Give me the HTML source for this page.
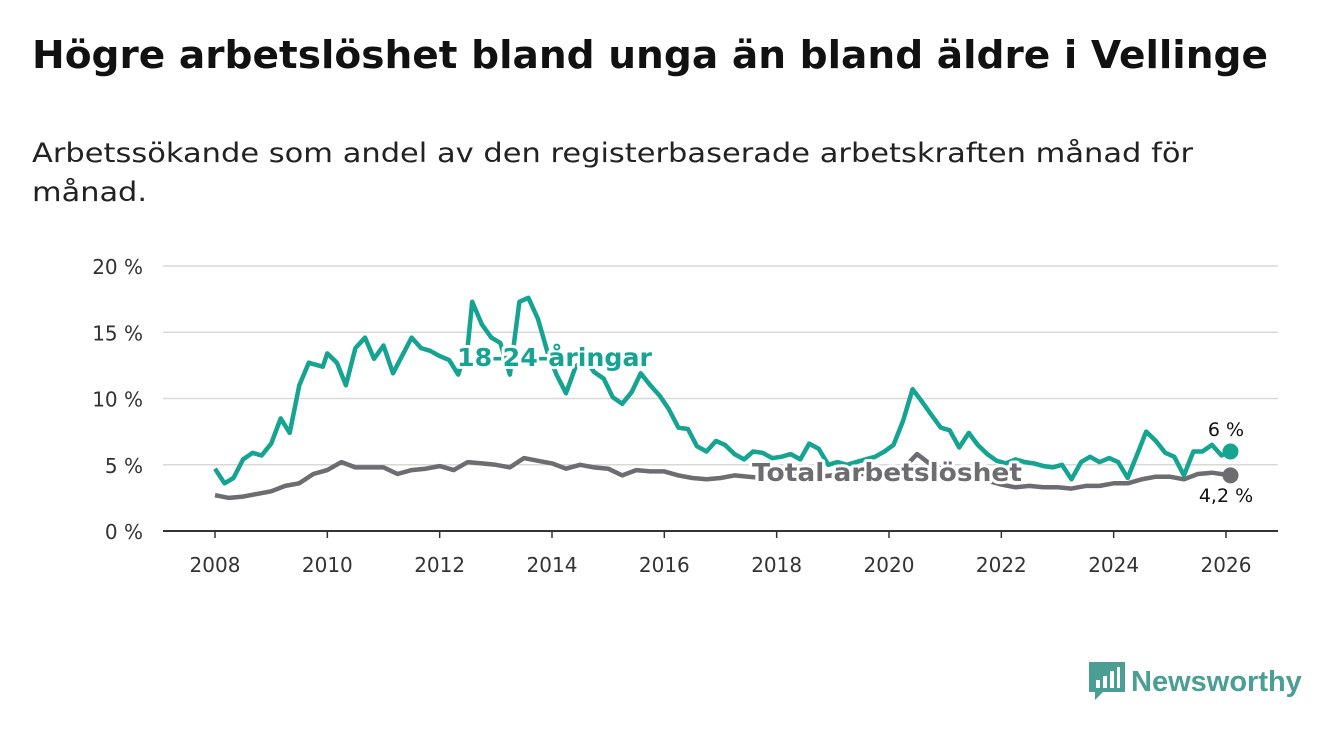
<!DOCTYPE html>
<html><head><meta charset="utf-8"><style>
body{margin:0;width:1340px;height:734px;background:#fff;font-family:"DejaVu Sans","Liberation Sans",sans-serif;overflow:hidden;position:relative}
.fit{position:absolute;margin:0;white-space:nowrap;transform-origin:0 0}
#title{left:32px;top:33px;font-size:38px;font-weight:bold;color:#111}
.sub{font-size:27px;color:#222;left:32px}
svg{position:absolute;left:0;top:0}
</style></head><body>
<div id="title" class="fit" data-target="1236">Högre arbetslöshet bland unga än bland äldre i Vellinge</div>
<div class="fit sub" style="top:138px" data-target="1161">Arbetssökande som andel av den registerbaserade arbetskraften månad för</div>
<div class="fit sub" style="top:177px" data-target="115">månad.</div>
<svg id="chart" width="1340" height="734"></svg>
<div style="position:absolute;left:1089px;top:662px;display:flex;align-items:center">
<svg width="36" height="40" style="position:static"><path d="M0 0H36V30H14L6 38V30H0Z" fill="#4a9e94"/><rect x="7" y="18" width="4" height="8" fill="#fff"/><rect x="14" y="14" width="4" height="12" fill="#fff"/><rect x="21" y="9" width="4" height="17" fill="#fff"/><rect x="28" y="5" width="3" height="21" fill="#fff"/></svg>
<span style="font-family:'Liberation Sans',sans-serif;font-size:29px;color:#4a9e94;font-weight:bold;margin-left:6px">Newsworthy</span></div>
<script>
const youthDates=[2008,2008.17,2008.33,2008.5,2008.67,2008.83,2009,2009.17,2009.33,2009.5,2009.67,2009.75,2009.92,2010,2010.17,2010.33,2010.5,2010.67,2010.83,2011,2011.17,2011.33,2011.5,2011.67,2011.83,2012,2012.17,2012.33,2012.5,2012.58,2012.75,2012.92,2013.08,2013.25,2013.42,2013.58,2013.75,2013.92,2014.08,2014.25,2014.42,2014.58,2014.75,2014.92,2015.08,2015.25,2015.42,2015.58,2015.75,2015.92,2016.08,2016.25,2016.42,2016.58,2016.75,2016.92,2017.08,2017.25,2017.42,2017.58,2017.75,2017.92,2018.08,2018.25,2018.42,2018.58,2018.75,2018.92,2019.08,2019.25,2019.42,2019.58,2019.75,2019.92,2020.08,2020.25,2020.42,2020.58,2020.75,2020.92,2021.08,2021.25,2021.42,2021.58,2021.75,2021.92,2022.08,2022.25,2022.42,2022.58,2022.75,2022.92,2023.08,2023.25,2023.42,2023.58,2023.75,2023.92,2024.08,2024.25,2024.42,2024.58,2024.75,2024.92,2025.08,2025.25,2025.42,2025.58,2025.75,2025.92,2026.08];
const youthVals=[4.7,3.6,4.0,5.4,5.9,5.7,6.6,8.5,7.4,11.0,12.7,12.6,12.4,13.4,12.7,11.0,13.8,14.6,13.0,14.0,11.9,13.2,14.6,13.8,13.6,13.2,12.9,11.8,14.0,17.3,15.6,14.6,14.2,11.8,17.3,17.6,16.0,13.5,11.8,10.4,12.4,13.0,12.0,11.5,10.1,9.6,10.5,11.9,11.0,10.2,9.2,7.8,7.7,6.4,6.0,6.8,6.5,5.8,5.4,6.0,5.9,5.5,5.6,5.8,5.4,6.6,6.2,5.0,5.2,5.0,5.2,5.4,5.6,6.0,6.5,8.3,10.7,9.8,8.8,7.8,7.6,6.3,7.4,6.5,5.8,5.3,5.1,5.4,5.2,5.1,4.9,4.8,5.0,3.9,5.2,5.6,5.2,5.5,5.2,4.0,5.8,7.5,6.8,5.9,5.6,4.2,6.0,6.0,6.5,5.7,6.0];
const totalDates=[2008,2008.25,2008.5,2008.75,2009,2009.25,2009.5,2009.75,2010,2010.25,2010.5,2010.75,2011,2011.25,2011.5,2011.75,2012,2012.25,2012.5,2012.75,2013,2013.25,2013.5,2013.75,2014,2014.25,2014.5,2014.75,2015,2015.25,2015.5,2015.75,2016,2016.25,2016.5,2016.75,2017,2017.25,2017.5,2017.75,2018,2018.25,2018.5,2018.75,2019,2019.25,2019.5,2019.75,2020,2020.25,2020.5,2020.75,2021,2021.25,2021.5,2021.75,2022,2022.25,2022.5,2022.75,2023,2023.25,2023.5,2023.75,2024,2024.25,2024.5,2024.75,2025,2025.25,2025.5,2025.75,2026.08];
const totalVals=[2.7,2.5,2.6,2.8,3.0,3.4,3.6,4.3,4.6,5.2,4.8,4.8,4.8,4.3,4.6,4.7,4.9,4.6,5.2,5.1,5.0,4.8,5.5,5.3,5.1,4.7,5.0,4.8,4.7,4.2,4.6,4.5,4.5,4.2,4.0,3.9,4.0,4.2,4.1,4.0,4.1,4.1,4.2,4.1,4.2,4.2,4.3,4.3,4.3,4.7,5.8,5.0,4.6,4.2,4.0,3.8,3.5,3.3,3.4,3.3,3.3,3.2,3.4,3.4,3.6,3.6,3.9,4.1,4.1,3.9,4.3,4.4,4.2];
const yTicks=[0,5,10,15,20];
const xTicks=[2008,2010,2012,2014,2016,2018,2020,2022,2024,2026];
document.querySelectorAll('.fit').forEach(e=>{const w=e.getBoundingClientRect().width;e.style.transform='scaleX('+(+e.dataset.target/w)+')';});
const svg=document.getElementById('chart');const NS='http://www.w3.org/2000/svg';
const x=v=>215+(v-2008)*(1226-215)/18, y=v=>531-v*13.25;
function el(t,a,p){const e=document.createElementNS(NS,t);for(const k in a)e.setAttribute(k,a[k]);(p||svg).appendChild(e);return e;}
yTicks.forEach(t=>{
 const l=el('line',{x1:163,x2:1278,y1:y(t),y2:y(t),stroke:t===0?'#333':'#d9d9d9','stroke-width':t===0?2:1.5});
 
 
 const tx=el('text',{x:143,y:y(t)+8,'text-anchor':'end','font-size':20,fill:'#333'});tx.textContent=t+' %';
 
 
});
xTicks.forEach(t=>{
 const l=el('line',{x1:x(t),x2:x(t),y1:531,y2:538,stroke:'#333','stroke-width':1.5});
 
 
 const tx=el('text',{x:x(t),y:572,'text-anchor':'middle','font-size':20,fill:'#333'});tx.textContent=t;
 
 
});
function line(d,v,c,name){const p=el('path',{d:d.map((t,i)=>(i?'L':'M')+x(t).toFixed(1)+' '+y(v[i]).toFixed(1)).join(''),fill:'none',stroke:c,'stroke-width':4.5,'stroke-linejoin':'round'});
 
 }
line(totalDates,totalVals,'#6d6c70','total-line');
line(youthDates,youthVals,'#14a491','youth-line');
const lastY=youthVals[youthVals.length-1], lastT=totalVals[totalVals.length-1];
const d1=el('circle',{cx:x(youthDates[youthDates.length-1]),cy:y(lastY),r:8,fill:'#14a491'});


const d2=el('circle',{cx:x(totalDates[totalDates.length-1]),cy:y(lastT),r:8,fill:'#6d6c70'});


function lab(t,xx,yy,c,name,sz,w,anchor,tl){const a={x:xx,y:yy,fill:c,'font-size':sz,'font-weight':w,'text-anchor':anchor||'start',stroke:'#fff','stroke-width':6,'paint-order':'stroke','stroke-linejoin':'round'};if(tl){a.textLength=tl;a.lengthAdjust='spacingAndGlyphs';}const e=el('text',a);e.textContent=t;
 
 }
lab('18-24-åringar',457,366,'#14a491','youth-series-label',25,'bold','start',195);
lab('Total arbetslöshet',752,481,'#6d6c70','total-series-label',25,'bold','start',270);
lab(String(lastY).replace('.',',')+' %',1226,436,'#111','youth-end-value',19,'normal','middle');
lab(String(lastT).replace('.',',')+' %',1226,502,'#111','total-end-value',19,'normal','middle');
</script>
</body></html>
